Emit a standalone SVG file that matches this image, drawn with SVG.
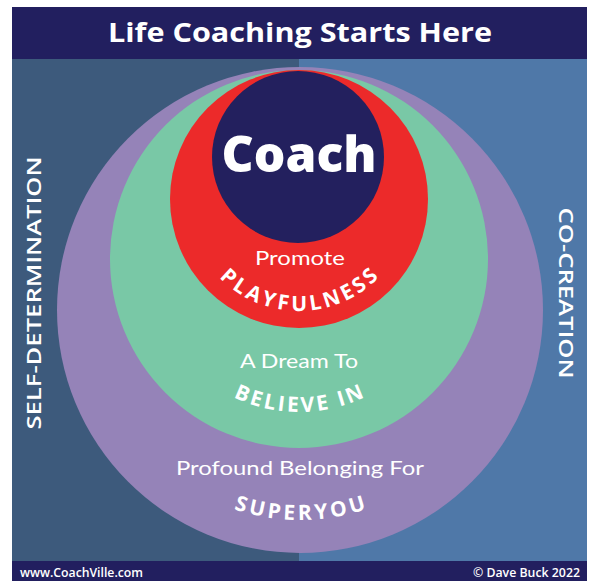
<svg xmlns="http://www.w3.org/2000/svg" width="589" height="581" viewBox="0 0 589 581">
<style>
.t{fill:#ffffff;font-family:"Open Sans","Liberation Sans",sans-serif}
.light{font-family:Lato,"Open Sans",sans-serif;font-weight:400;font-size:20px;fill:#ffffff}
.arc{font-family:"Open Sans","Liberation Sans",sans-serif;font-weight:700;font-size:21px;fill:#ffffff}
.side{font-family:"Open Sans","Liberation Sans",sans-serif;font-weight:600;font-size:19px;fill:#ffffff}
.foot{font-family:"Open Sans","Liberation Sans",sans-serif;font-weight:600;font-size:12px;fill:#ffffff}
</style>
<defs>
<path id="arcRed" d="M187,199 A112,112 0 0 0 411,199"/>
<path id="arcGreen" d="M146,259 A153,153 0 0 0 452,259"/>
<path id="arcPurple" d="M90,310 A210,210 0 0 0 510,310"/>
</defs>
<rect width="589" height="581" fill="#ffffff"/>
<g id="frame">
<rect x="12" y="7" width="575" height="574" fill="#221f5f"/>
<rect x="12" y="59" width="287" height="502" fill="#3d5a7c"/>
<rect x="299" y="59" width="288" height="502" fill="#4f78a8"/>
</g>
<g id="title"><text class="t" x="300" y="42" font-size="27" font-weight="700" text-anchor="middle" textLength="384" lengthAdjust="spacingAndGlyphs">Life Coaching Starts Here</text></g>
<g id="side-left"><text class="side" transform="translate(41,293) rotate(-90)" text-anchor="middle" textLength="273" lengthAdjust="spacingAndGlyphs">SELF-DETERMINATION</text></g>
<g id="side-right"><text class="side" transform="translate(559,293) rotate(90)" text-anchor="middle" textLength="171" lengthAdjust="spacingAndGlyphs">CO-CREATION</text></g>
<g id="superyou">
<circle cx="300" cy="310" r="243" fill="#9583b8"/>
<text class="light" x="300" y="475" text-anchor="middle" textLength="248" lengthAdjust="spacingAndGlyphs">Profound Belonging For</text>
<text class="arc"><textPath href="#arcPurple" startOffset="50%" text-anchor="middle" textLength="135" lengthAdjust="spacing">SUPERYOU</textPath></text>
</g>
<g id="believe">
<circle cx="299" cy="259" r="189" fill="#79c8a6"/>
<text class="light" x="299" y="368" text-anchor="middle" textLength="118" lengthAdjust="spacingAndGlyphs">A Dream To</text>
<text class="arc"><textPath href="#arcGreen" startOffset="50%" text-anchor="middle" textLength="136" lengthAdjust="spacing">BELIEVE IN</textPath></text>
</g>
<g id="playfulness">
<circle cx="299" cy="199" r="129" fill="#ec2a2a"/>
<text class="light" x="300" y="265" text-anchor="middle" textLength="90" lengthAdjust="spacingAndGlyphs">Promote</text>
<text class="arc"><textPath href="#arcRed" startOffset="50%" text-anchor="middle" textLength="178" lengthAdjust="spacing">PLAYFULNESS</textPath></text>
</g>
<g id="coach">
<circle cx="298" cy="157" r="86" fill="#23205e"/>
<text class="t" x="299" y="172" font-size="50" font-weight="800" text-anchor="middle" textLength="155" lengthAdjust="spacingAndGlyphs">Coach</text>
</g>
<g id="connectors"/>
<g id="footer">
<text class="foot" x="20" y="577" textLength="123" lengthAdjust="spacingAndGlyphs">www.CoachVille.com</text>
<text class="foot" x="580" y="577" text-anchor="end" textLength="107" lengthAdjust="spacingAndGlyphs">© Dave Buck 2022</text>
</g>
</svg>
